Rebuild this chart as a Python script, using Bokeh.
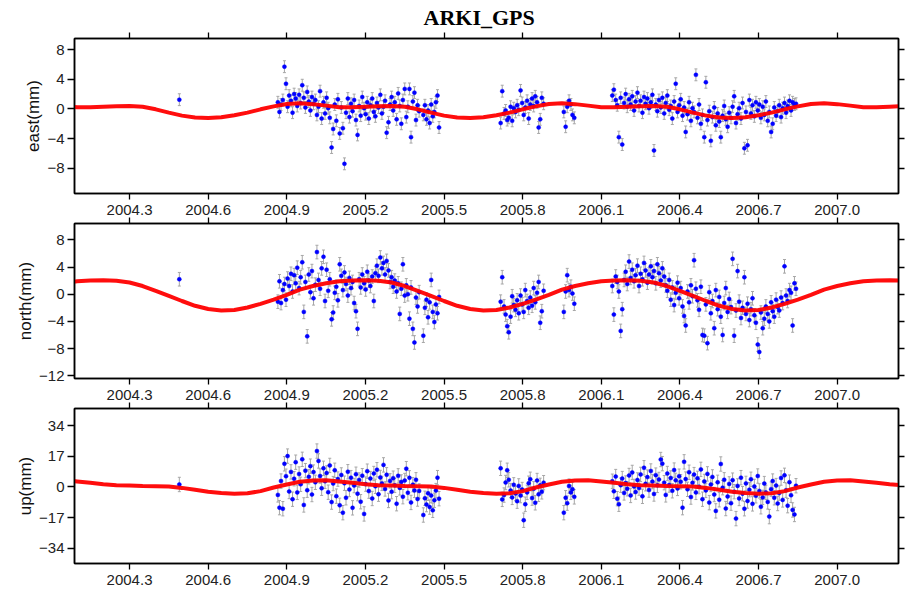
from bokeh.plotting import figure
from bokeh.layouts import column
from bokeh.models import Range1d, LinearAxis, FixedTicker, NumeralTickFormatter, CustomJSTickFormatter, ColumnDataSource
from bokeh.embed import file_html
from bokeh.resources import INLINE

TITLE = "ARKI_GPS"
X_MIN, X_MAX = 2004.09, 2007.234
X_TICKS = [2004.3, 2004.6, 2004.9, 2005.2, 2005.5, 2005.8, 2006.1, 2006.4, 2006.7, 2007.0]
EAST_TICKS = [-8, -4, 0, 4, 8]
NORTH_TICKS = [-12, -8, -4, 0, 4, 8]
UP_TICKS = [-34, -17, 0, 17, 34]
EAST_RANGE = (-11.4, 9.5)
NORTH_RANGE = (-12.4, 10.4)
UP_RANGE = (-42.6, 43.7)

# observation epochs (decimal years)
T_ISO = [2004.490]
T_A = [2004.866, 2004.872, 2004.878, 2004.885, 2004.891, 2004.897, 2004.903, 2004.909, 2004.916, 2004.922,
       2004.928, 2004.934, 2004.940, 2004.947, 2004.953, 2004.959, 2004.965, 2004.971, 2004.978, 2004.984,
       2004.990, 2004.996, 2005.002, 2005.009, 2005.015, 2005.021, 2005.027, 2005.033, 2005.040, 2005.046,
       2005.052, 2005.058, 2005.064, 2005.071, 2005.077, 2005.083, 2005.089, 2005.095, 2005.102, 2005.108,
       2005.114, 2005.120, 2005.126, 2005.133, 2005.139, 2005.145, 2005.151, 2005.157, 2005.164, 2005.170,
       2005.176, 2005.182, 2005.188, 2005.195, 2005.201, 2005.207, 2005.213, 2005.219, 2005.226, 2005.232,
       2005.238, 2005.244, 2005.250, 2005.257, 2005.263, 2005.269, 2005.275, 2005.281, 2005.288, 2005.294,
       2005.300, 2005.306, 2005.312, 2005.319, 2005.325, 2005.331, 2005.337, 2005.343, 2005.350, 2005.356,
       2005.362, 2005.368, 2005.374, 2005.381, 2005.387, 2005.393, 2005.399, 2005.405,
       2005.421, 2005.427, 2005.433, 2005.439, 2005.445, 2005.451, 2005.457, 2005.463, 2005.469, 2005.475, 2005.481]
T_B = [2005.716, 2005.722, 2005.729, 2005.735, 2005.741, 2005.747, 2005.754, 2005.760, 2005.766, 2005.773,
       2005.779, 2005.785, 2005.792, 2005.798, 2005.804, 2005.810, 2005.817, 2005.823, 2005.829, 2005.836,
       2005.842, 2005.848, 2005.855, 2005.861, 2005.867, 2005.873, 2005.880]
T_C = [2005.957, 2005.964, 2005.970, 2005.977, 2005.984, 2005.990, 2005.997]
T_D = [2006.142, 2006.148, 2006.155, 2006.161, 2006.167, 2006.174, 2006.180, 2006.187, 2006.193, 2006.199,
       2006.206, 2006.212, 2006.218, 2006.225, 2006.231, 2006.238, 2006.244, 2006.250, 2006.257, 2006.263,
       2006.269, 2006.276, 2006.282, 2006.289, 2006.295, 2006.301, 2006.308, 2006.314, 2006.320, 2006.327,
       2006.333, 2006.340, 2006.346, 2006.352, 2006.359, 2006.365, 2006.371, 2006.378, 2006.384, 2006.391,
       2006.397, 2006.403, 2006.410, 2006.416, 2006.422, 2006.429, 2006.435, 2006.442, 2006.448, 2006.454,
       2006.461, 2006.467, 2006.473, 2006.480, 2006.486, 2006.493, 2006.499, 2006.505, 2006.512, 2006.518,
       2006.524, 2006.531, 2006.537, 2006.544, 2006.550, 2006.556, 2006.563, 2006.569, 2006.575, 2006.582,
       2006.588, 2006.595, 2006.601, 2006.607, 2006.614, 2006.620, 2006.626, 2006.633, 2006.639, 2006.646,
       2006.652, 2006.658, 2006.665, 2006.671, 2006.677, 2006.684, 2006.690, 2006.697, 2006.703, 2006.709,
       2006.716, 2006.722, 2006.728, 2006.735, 2006.741, 2006.748, 2006.754, 2006.760, 2006.767, 2006.773,
       2006.779, 2006.786, 2006.792, 2006.799, 2006.805, 2006.811, 2006.818, 2006.824, 2006.830, 2006.837, 2006.843]

# east (mm)
EAST_ISO = [1.25]
EAST_A = [0.9, -0.4, 0.6, 1.2, 5.7, 3.4, 0.3, 1.8, 1.1, -0.5,
          2.0, 1.4, 0.4, 1.9, 0.8, 3.2, 1.5, 0.2, 2.3, 1.0,
          -0.2, 1.6, 0.7, 1.2, -0.8, 0.3, 2.4, -1.3, 0.9, -0.6,
          1.5, 0.1, -1.2, -5.2, -2.7, 0.6, -1.6, 1.3, -3.3, 0.2,
          -2.6, -7.4, -0.5, 1.4, -1.1, 0.7, -0.3, 1.2, -1.5, -3.5,
          0.4, -0.9, 1.6, 0.1, -0.7, 0.9, -1.3, 0.5, 1.4, -0.4,
          -1.0, 0.8, 0.2, 1.9, -0.6, 0.3, 1.1, -3.2, -1.8, 0.6,
          1.6, -0.2, 0.9, -1.4, 2.1, 0.4, -2.0, 1.2, 2.7, -1.1,
          0.3, 2.7, -3.8, 1.0, 2.2, -1.5, 0.5, -0.3,
          -0.8, 0.5, -1.4, -0.2, -1.9, 0.6, -1.0, -0.4, 0.9, 1.8, -2.5]
EAST_B = [-1.9, 2.4, -0.6, -0.2, -1.5, -1.2, 0.3, -1.6, 0.1, -0.4,
          0.5, -0.1, 2.5, 0.8, -0.8, 0.2, 1.1, -1.3, 0.6, 1.4,
          0.4, 1.7, 0.9, -2.5, -1.4, 1.5, 0.7]
EAST_C = [-0.4, -2.4, 0.3, 1.1, 0.6, -0.8, -1.2]
EAST_D = [1.8, 2.6, 1.2, 0.5, -3.8, 1.5, -4.8, 0.8, 2.0, 0.3,
          1.3, 0.6, 1.7, -0.2, 1.0, 2.2, 0.4, 1.1, -0.5, 1.6,
          0.7, 1.4, 0.1, 0.9, 1.9, -5.6, 0.6, -0.3, 1.2, 0.2,
          1.5, -0.6, 0.8, 1.8, -0.1, 0.4, -1.3, 1.0, 3.4, -0.4,
          0.5, 1.3, -0.9, 0.2, -3.1, -0.7, 0.9, -1.6, 0.1, -0.4,
          4.6, -1.2, 0.6, -2.0, -0.8, -3.8, 3.6, -1.5, -0.3, -4.3,
          -1.1, 0.2, -2.2, -0.6, -1.7, -3.8, -0.9, 0.4, -1.4, -2.4,
          -0.5, -1.2, 0.3, 1.7, -1.9, -0.7, 0.1, -1.3, 0.8, -5.3,
          -0.4, -4.9, 1.2, -0.6, 0.5, -1.0, 0.9, -0.2, 0.6, -1.2,
          0.3, -0.8, 1.0, -1.6, -0.4, -3.1, -2.0, 0.2, -0.9, -0.3,
          0.5, -1.1, 0.1, 0.8, -0.5, 0.4, 1.1, -0.2, 0.9, 0.6, 0.7]

# north (mm)
NORTH_ISO = [2.2]
NORTH_A = [-1.1, 1.9, -1.3, 0.6, 1.5, -0.8, 2.3, 1.2, 3.0, 0.4,
           2.8, 1.6, 3.9, 0.9, 2.5, 4.7, -2.6, 1.8, -6.2, 2.9,
           0.3, 3.4, -0.6, 1.4, 6.2, 2.1, 0.8, 3.8, 5.5, -1.0,
           3.6, 0.5, 2.2, -3.7, -2.7, 0.2, 1.1, -0.9, 4.4, 2.7,
           0.6, 3.2, 1.5, -0.2, 2.4, 0.9, 1.8, -1.3, -2.5, -5.1,
           2.2, 1.0, 2.9, 1.6, 0.7, 3.3, 2.0, 1.2, 2.6, -1.0,
           3.1, 4.2, 2.7, 5.4, 3.8, 4.6, 2.9, 4.9, 3.5, 1.8,
           2.5, 1.1, 2.0, 0.4, 1.6, -2.9, 0.8, 4.4, -0.2, 1.3,
           0.0, -3.6, 1.0, -5.1, -7.1, -0.5, -1.8, 0.3,
           -6.1, -2.0, -0.8, -3.4, -1.2, 2.1, -2.6, -4.1, -1.5, -2.8, -0.4]
NORTH_B = [-1.1, 2.5, -1.8, -3.0, -4.7, -5.6, -3.3, -0.3, -1.6, -2.3,
           -0.9, -2.8, -0.2, -1.5, -2.6, 0.6, -1.0, -2.0, -0.5, -1.7,
           0.9, -1.2, 0.2, 1.8, -4.2, -2.5, 0.5]
NORTH_C = [-2.6, 0.4, 2.8, 0.6, 1.1, 0.1, -1.4]
NORTH_D = [1.2, -3.0, 2.6, 1.8, 0.4, -5.4, -2.2, 2.1, 3.3, 1.5,
           4.8, 2.4, 3.6, 1.9, 2.8, 4.2, 1.2, 3.0, 2.2, 4.6,
           3.5, 1.7, 2.9, 4.1, 2.5, 3.4, 1.6, 4.4, 3.1, 2.0,
           3.8, 2.6, 1.3, 0.5, 2.1, -0.8, 1.0, -1.6, 0.2, 1.7,
           -0.6, 0.9, -1.8, -3.2, -4.6, 0.4, -1.2, 1.3, -0.3, 5.0,
           0.8, -0.9, -2.3, 1.1, -6.0, -6.1, -1.5, -7.2, 0.3, -2.8,
           -1.0, -5.0, 0.6, -2.2, -0.4, -3.3, -6.0, -1.3, 0.9, -2.6,
           -0.7, -1.9, 5.2, -6.1, -2.4, 3.4, -1.1, -3.5, -2.0, 2.5,
           -2.9, -1.4, -3.8, -2.2, -0.6, -3.1, -4.2, -7.4, -8.5, -2.7,
           -5.0, -3.6, -1.8, -2.9, -4.0, -1.2, -2.5, -3.3, -0.8, -1.9,
           -2.4, -0.5, -1.3, 4.1, -0.2, -1.0, 0.6, 0.2, -4.6, 1.6, 0.8]

# up (mm)
UP_ISO = [1.4]
UP_A = [-4.4, -11.5, 3.3, -12.1, 12.9, 6.0, 17.2, -2.5, 8.4, -6.8,
        4.6, 13.8, -3.0, 7.2, 1.5, 15.4, -10.0, 9.1, -1.8, 5.7,
        11.6, -4.2, 8.3, 2.6, 20.0, 14.5, 6.1, -0.7, 10.4, 3.2,
        7.8, -2.9, 12.0, -8.4, 1.9, 9.3, -5.1, 4.4, -10.2, 6.7,
        -14.3, 2.1, -6.0, 8.5, -1.4, 5.2, -11.6, 0.8, 7.1, -3.7,
        3.9, -8.2, 6.3, -15.0, 1.6, 8.8, -2.3, 4.7, -6.4, 7.5,
        0.4, 9.6, -4.0, 5.3, 2.0, 12.3, -1.1, 6.8, -7.5, 3.4,
        -2.6, 4.9, 0.9, -9.3, 6.2, -0.5, 2.8, -5.4, 3.6, 10.2,
        -3.2, 5.1, -8.6, 1.3, -1.9, 4.0, -6.7, -2.2,
        -15.6, -6.3, -9.8, -3.5, -11.2, -4.8, -13.0, -7.4, -2.0, 5.2, -6.5]
UP_B = [10.4, -6.9, -4.5, 2.5, 9.3, 4.0, -2.0, -5.8, 1.2, -3.6,
        -7.9, 0.6, -4.8, -1.4, -18.5, -9.6, -3.0, 2.1, 4.3, -6.2,
        -1.0, -8.8, 3.6, -4.1, 0.9, -2.7, 2.4]
UP_C = [-14.3, -6.0, -9.0, 0.5, -3.0, -1.2, -5.5]
UP_D = [3.2, -2.4, 5.8, -6.5, -9.6, 1.0, 4.7, -3.3, 2.2, -1.0,
        6.4, -4.7, 8.1, 0.3, -2.8, 3.9, -0.6, 7.0, -5.2, 10.7,
        1.8, 5.5, -1.7, 8.9, 3.0, -3.9, 6.6, 0.9, 4.2, 15.3,
        13.0, 2.4, -4.4, 7.5, 1.1, 5.0, -2.1, 9.4, 3.7, -0.8,
        6.0, 2.9, -11.5, 14.0, 4.4, -1.3, 8.2, -5.6, 2.3, 6.9,
        -3.0, 4.8, 0.2, 9.8, -6.8, 3.1, -1.9, 7.3, -8.7, 1.4,
        5.6, -4.2, -13.3, 2.6, -7.1, 12.8, -0.4, 4.0, -12.0, -5.3,
        1.7, -9.0, 3.8, -2.6, -17.6, 0.6, -6.4, 5.2, -3.7, -12.1,
        2.0, -7.8, -1.5, 4.3, -9.4, 0.3, -4.9, 6.1, -2.2, -11.0,
        -5.8, 1.9, -3.0, -8.3, -16.5, -1.2, 3.3, -6.0, 0.8, -9.2,
        -3.4, 5.0, -7.2, 6.5, -1.8, -10.4, 2.7, -4.6, -12.8, -15.3, 0.7]

EAST_SIGMA = 0.8
NORTH_SIGMA = 1.0
UP_SIGMA = 4.0

# seasonal model curves, read every 0.05 yr
CURVE_T = [2004.05, 2004.10, 2004.15, 2004.20, 2004.25, 2004.30, 2004.35, 2004.40, 2004.45, 2004.50,
           2004.55, 2004.60, 2004.65, 2004.70, 2004.75, 2004.80, 2004.85, 2004.90, 2004.95, 2005.00,
           2005.05, 2005.10, 2005.15, 2005.20, 2005.25, 2005.30, 2005.35, 2005.40, 2005.45, 2005.50,
           2005.55, 2005.60, 2005.65, 2005.70, 2005.75, 2005.80, 2005.85, 2005.90, 2005.95, 2006.00,
           2006.05, 2006.10, 2006.15, 2006.20, 2006.25, 2006.30, 2006.35, 2006.40, 2006.45, 2006.50,
           2006.55, 2006.60, 2006.65, 2006.70, 2006.75, 2006.80, 2006.85, 2006.90, 2006.95, 2007.00,
           2007.05, 2007.10, 2007.15, 2007.20, 2007.25]
EAST_FIT = [0.45, 0.22, 0.22, 0.30, 0.38, 0.40, 0.30, -0.05, -0.50, -0.90,
            -1.15, -1.22, -1.12, -0.85, -0.50, -0.05, 0.35, 0.68, 0.78, 0.65,
            0.45, 0.22, 0.22, 0.30, 0.38, 0.40, 0.30, -0.05, -0.50, -0.90,
            -1.15, -1.22, -1.12, -0.85, -0.50, -0.05, 0.35, 0.68, 0.78, 0.65,
            0.45, 0.22, 0.22, 0.30, 0.38, 0.40, 0.30, -0.05, -0.50, -0.90,
            -1.15, -1.22, -1.12, -0.85, -0.50, -0.05, 0.35, 0.68, 0.78, 0.65,
            0.45, 0.22, 0.22, 0.30, 0.38]
NORTH_FIT = [1.60, 1.90, 2.02, 2.05, 1.98, 1.72, 1.20, 0.50, -0.25, -1.00,
             -1.70, -2.18, -2.39, -2.33, -1.95, -1.42, -0.80, -0.10, 0.68, 1.20,
             1.60, 1.90, 2.02, 2.05, 1.98, 1.72, 1.20, 0.50, -0.25, -1.00,
             -1.70, -2.18, -2.39, -2.33, -1.95, -1.42, -0.80, -0.10, 0.68, 1.20,
             1.60, 1.90, 2.02, 2.05, 1.98, 1.72, 1.20, 0.50, -0.25, -1.00,
             -1.70, -2.18, -2.39, -2.33, -1.95, -1.42, -0.80, -0.10, 0.68, 1.20,
             1.60, 1.90, 2.02, 2.05, 1.98]
UP_FIT = [3.8, 3.1, 2.3, 1.5, 1.0, 0.8, 0.6, 0.45, 0.25, -0.5,
          -1.5, -2.6, -3.35, -3.7, -3.5, -2.3, -0.3, 1.4, 2.9, 3.6,
          3.8, 3.1, 2.3, 1.5, 1.0, 0.8, 0.6, 0.45, 0.25, -0.5,
          -1.5, -2.6, -3.35, -3.7, -3.5, -2.3, -0.3, 1.4, 2.9, 3.6,
          3.8, 3.1, 2.3, 1.5, 1.0, 0.8, 0.6, 0.45, 0.25, -0.5,
          -1.5, -2.6, -3.35, -3.7, -3.5, -2.3, -0.3, 1.4, 2.9, 3.6,
          3.8, 3.1, 2.3, 1.5, 1.0]

T = T_ISO + T_A + T_B + T_C + T_D
EAST = EAST_ISO + EAST_A + EAST_B + EAST_C + EAST_D
NORTH = NORTH_ISO + NORTH_A + NORTH_B + NORTH_C + NORTH_D
UP = UP_ISO + UP_A + UP_B + UP_C + UP_D
assert len(T) == len(EAST) == len(NORTH) == len(UP), (len(T), len(EAST), len(NORTH), len(UP))
assert len(CURVE_T) == len(EAST_FIT) == len(NORTH_FIT) == len(UP_FIT)

SANS = "Liberation Sans"
HIDE = CustomJSTickFormatter(code="return ''")


def style_axis(ax, tick_out):
    ax.axis_line_color = "black"
    ax.axis_line_width = 1.5
    ax.major_tick_line_color = "black"
    ax.major_tick_line_width = 1.3
    ax.major_tick_out = tick_out
    ax.major_tick_in = 0
    ax.minor_tick_line_color = None
    ax.major_label_text_font = SANS
    ax.major_label_text_font_size = "15px"
    ax.major_label_text_color = "#222222"


def make_panel(values, sigma, fit, yticks, yrange, ylabel, top_border, title=None):
    src = ColumnDataSource(dict(t=T, v=values,
                                lo=[v - sigma for v in values],
                                hi=[v + sigma for v in values]))
    fsrc = ColumnDataSource(dict(t=CURVE_T, v=fit))
    p = figure(frame_width=824, frame_height=155, title=title,
               x_range=Range1d(X_MIN, X_MAX), y_range=Range1d(*yrange),
               output_backend="svg", toolbar_location=None,
               min_border_left=74, min_border_right=10,
               min_border_top=top_border, min_border_bottom=22)
    p.background_fill_color = "white"
    p.border_fill_color = "white"
    p.outline_line_color = "black"
    p.outline_line_width = 1.5
    p.xgrid.visible = False
    p.ygrid.visible = False

    xt = FixedTicker(ticks=X_TICKS, minor_ticks=[])
    yt = FixedTicker(ticks=yticks, minor_ticks=[])

    xa = p.xaxis[0]
    xa.ticker = xt
    xa.formatter = NumeralTickFormatter(format="0.0")
    style_axis(xa, 6)
    xa.major_label_standoff = 5

    ya = p.yaxis[0]
    ya.ticker = yt
    ya.major_label_overrides = {v: str(v).replace("-", "\u2212") for v in yticks}
    style_axis(ya, 7)
    ya.major_label_standoff = 3
    ya.axis_label = ylabel
    ya.axis_label_text_font = SANS
    ya.axis_label_text_font_size = "17px"
    ya.axis_label_text_font_style = "normal"
    ya.axis_label_text_color = "#111111"
    ya.axis_label_standoff = 1

    top = LinearAxis(ticker=xt, formatter=HIDE, major_label_standoff=0)
    style_axis(top, 6)
    top.major_label_text_font_size = "1px"
    p.add_layout(top, "above")
    right = LinearAxis(ticker=yt, formatter=HIDE, major_label_standoff=0)
    style_axis(right, 6)
    right.major_label_text_font_size = "1px"
    p.add_layout(right, "right")

    p.segment(x0="t", y0="lo", x1="t", y1="hi", source=src, line_color="#a6a6a6", line_width=1)
    p.scatter(x="t", y="lo", marker="dash", size=3, source=src, line_color="#a6a6a6", line_width=1)
    p.scatter(x="t", y="hi", marker="dash", size=3, source=src, line_color="#a6a6a6", line_width=1)
    p.scatter(x="t", y="v", marker="circle", size=4, source=src,
              fill_color="#0000ff", line_color="#0000ff", line_width=0.5)
    p.line(x="t", y="v", source=fsrc, line_color="#ff0000", line_width=4, line_alpha=0.95)
    return p


p1 = make_panel(EAST, EAST_SIGMA, EAST_FIT, EAST_TICKS, EAST_RANGE, "east(mm)", 38, title=TITLE)
p1.title.text_font = "Liberation Serif"
p1.title.text_font_style = "bold"
p1.title.text_font_size = "22px"
p1.title.text_color = "black"
p1.title.align = "left"
p1.title.offset = 349
p1.title.standoff = 5

p2 = make_panel(NORTH, NORTH_SIGMA, NORTH_FIT, NORTH_TICKS, NORTH_RANGE, "north(mm)", 6)
p3 = make_panel(UP, UP_SIGMA, UP_FIT, UP_TICKS, UP_RANGE, "up(mm)", 6)

layout = column(p1, p2, p3, spacing=0)
open("out.html", "w").write(file_html(layout, INLINE))
